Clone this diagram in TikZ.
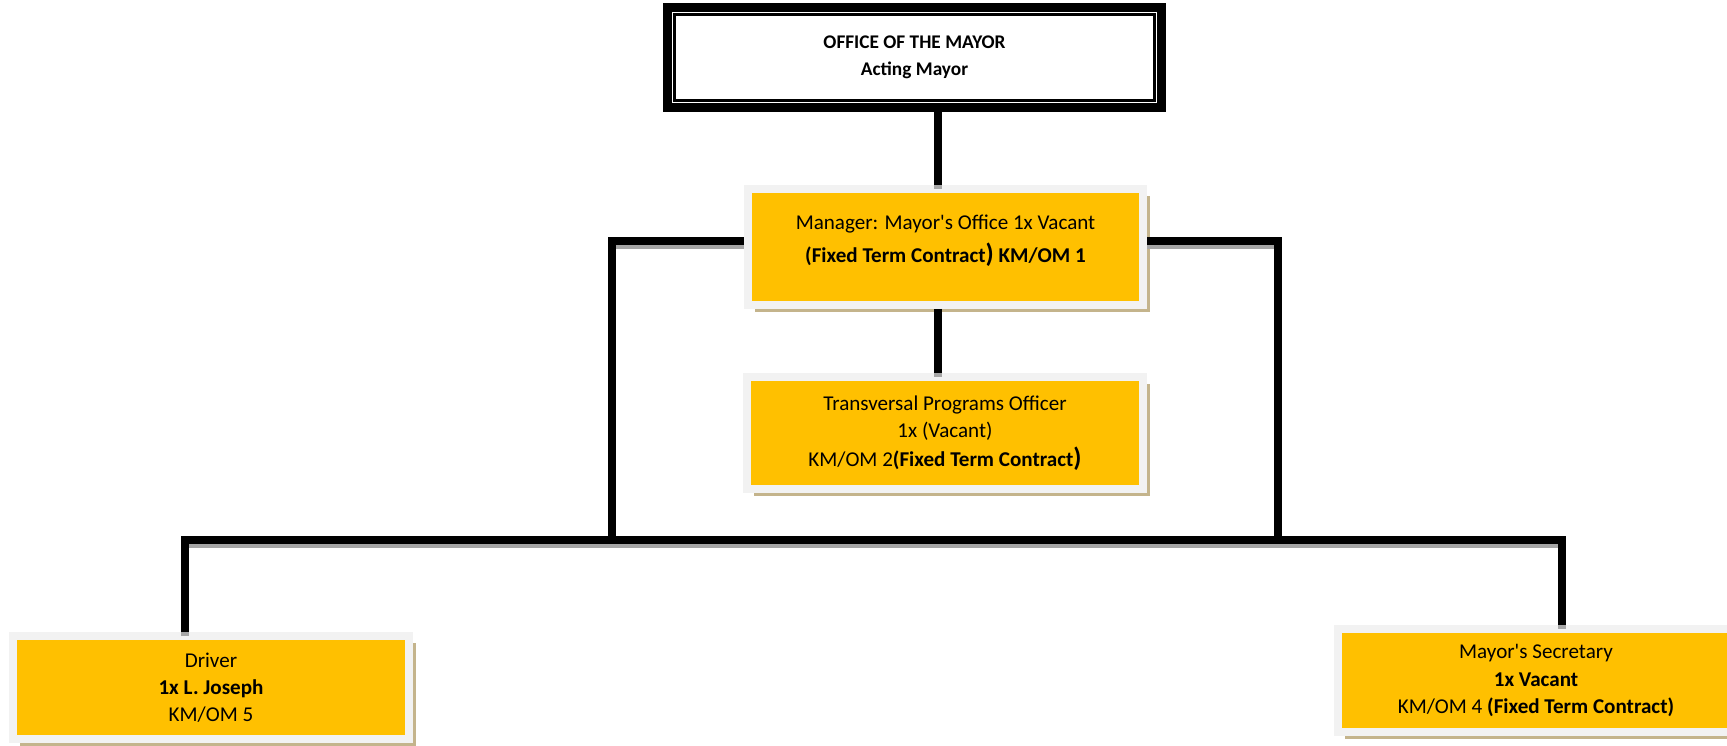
\documentclass[tikz,border=0pt]{standalone}
\usepackage{fontspec}
\setmainfont{Carlito}
\usetikzlibrary{shadows}

\definecolor{postyellow}{HTML}{FFC000}
\definecolor{framegray}{HTML}{F2F2F2}
\definecolor{shadowtan}{HTML}{C4B48C}
\definecolor{wireshadow}{HTML}{A6A6A6}

\newcommand{\bigparen}[1]{{\fontsize{15}{15}\selectfont #1}}

\begin{document}
\begin{tikzpicture}[x=0.02cm,y=-0.02cm,
  post/.style={draw=framegray,line width=0.16cm,fill=postyellow,align=center,
    minimum width=7.92cm,minimum height=2.06cm,font=\fontsize{12}{15.4}\selectfont,
    drop shadow={shadow xshift=0.14cm,shadow yshift=-0.14cm,fill=shadowtan,opacity=1}},
  mayorbox/.style={draw=black,line width=0.18cm,fill=white,align=center,
    minimum width=9.88cm,minimum height=2cm,font=\fontsize{11}{15.4}\selectfont\bfseries},
  wire/.style={line width=0.16cm,
    preaction={draw=wireshadow,line width=0.16cm,transform canvas={yshift=-0.08cm}}}]

\useasboundingbox (0,0) rectangle (1727,745);

% Mayor
\node[mayorbox] (mayor) at (914.5,57.5) {OFFICE OF THE MAYOR\\Acting Mayor};
\draw[line width=0.06cm] ([shift={(11.5,11.5)}]mayor.north west)
  rectangle ([shift={(-11.5,-11.5)}]mayor.south east);

% Manager and officer
\node[post,minimum height=2.32cm] (mgr) at (945.5,247)
  {Manager: Mayor\textquotesingle s Office 1x Vacant\\[3.5pt]
   \textbf{(Fixed Term Contract\bigparen{)} KM/OM 1}\\[-6.4pt]\mbox{}};
\node[post,minimum height=2.24cm] (tpo) at (945,433)
  {Transversal Programs Officer\\1x (Vacant)\\[1pt]
   KM/OM 2\textbf{(Fixed Term Contract\bigparen{)}}};

% Driver and secretary
\node[post] (drv) at (211,687.5) {Driver\\\textbf{1x L. Joseph}\\KM/OM 5};
\node[post] (sec) at (1536,680.5)
  {Mayor\textquotesingle s Secretary\\\textbf{1x Vacant}\\
   KM/OM 4 \textbf{(Fixed Term Contract)}};

% Junctions
\coordinate (trunk) at (937.5,0);
\coordinate (jl) at (612,241);
\coordinate (jr) at (1278,241);
\coordinate (bl) at (185,540);
\coordinate (br) at (1562,540);

% Lines
\draw[wire] (mayor.south -| trunk) -- (mgr.north -| trunk);
\draw[wire] (mgr.south -| trunk) -- (tpo.north -| trunk);
\draw[wire] (mgr.west |- jl) -- (jl) -- (bl -| jl);
\draw[wire] (mgr.east |- jr) -- (jr) -- (bl -| jr);
\draw[wire] (drv.north -| bl) -- (bl) -- (br) -- (sec.north -| br);

\end{tikzpicture}
\end{document}
